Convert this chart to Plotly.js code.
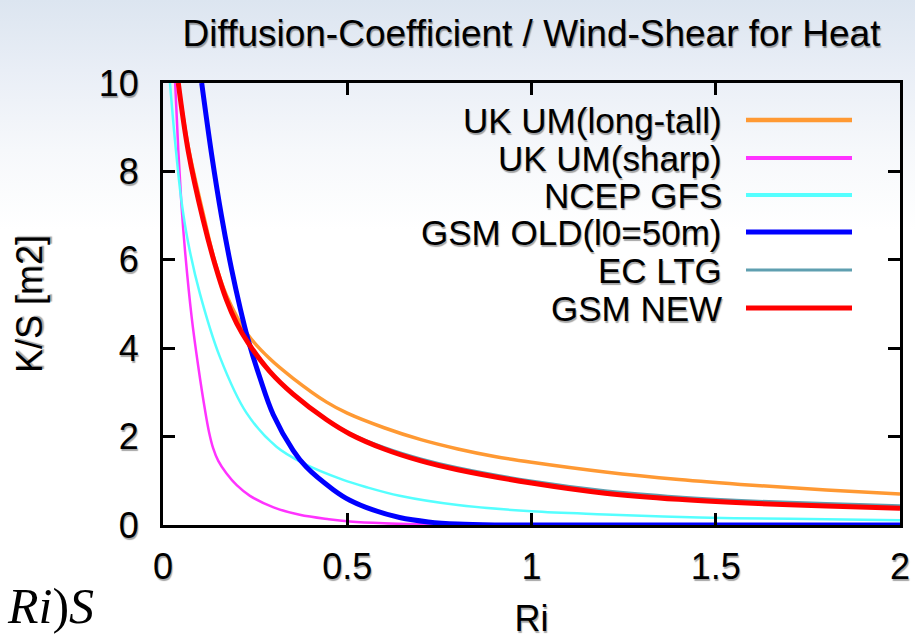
<!DOCTYPE html>
<html>
<head>
<meta charset="utf-8">
<script src="https://cdn.plot.ly/plotly-3.0.1.min.js"></script>
<style>
  html, body { margin: 0; padding: 0; }
  body {
    width: 915px; height: 639px; overflow: hidden;
    background: linear-gradient(to bottom, #dce5f0 0px, #e9eef6 70px, #f6f8fb 150px, #ffffff 230px, #ffffff 639px);
  }
  #chart { width: 915px; height: 639px; }
</style>
</head>
<body>
<div id="chart"></div>
<script>
// ---- data ----
const chartTitle = 'Diffusion-Coefficient / Wind-Shear for Heat';
const xTitle = 'Ri';
const yTitle = 'K/S [m2]';
const xTickVals = [0, 0.5, 1, 1.5, 2];
const xTickText = ['0', '0.5', '1', '1.5', '2'];
const yTickVals = [0, 2, 4, 6, 8, 10];
const yTickText = ['0', '2', '4', '6', '8', '10'];

const seriesNames = ['UK UM(long-tall)', 'UK UM(sharp)', 'NCEP GFS', 'GSM OLD(l0=50m)', 'EC LTG', 'GSM NEW'];

const ukLongRi = [0.041, 0.0687, 0.109, 0.141, 0.172, 0.231, 0.29, 0.353, 0.444, 0.5, 0.6, 0.7, 0.8, 0.9, 1.0, 1.2, 1.4, 1.6, 1.8, 2.0];
const ukLongKS = [10, 8.55, 7.05, 5.95, 5.2, 4.3, 3.76, 3.32, 2.78, 2.53, 2.2, 1.93, 1.72, 1.55, 1.42, 1.2, 1.03, 0.9, 0.79, 0.7];

const ukSharpRi = [0.033, 0.0415, 0.05, 0.0596, 0.0777, 0.0958, 0.114, 0.125, 0.136, 0.15, 0.172, 0.2, 0.236, 0.3, 0.371, 0.45, 0.507, 0.6, 0.7, 0.8, 1.0, 1.5, 2.0];
const ukSharpKS = [10, 8.48, 7.25, 6.22, 4.71, 3.58, 2.6, 2.1, 1.74, 1.45, 1.17, 0.9, 0.66, 0.4, 0.23, 0.13, 0.08, 0.04, 0.02, 0.01, 0.005, 0, 0];

const ncepRi = [0.019, 0.0325, 0.0506, 0.0687, 0.1, 0.154, 0.227, 0.308, 0.38, 0.489, 0.55, 0.642, 0.8, 1.0, 1.2, 1.455, 1.7, 2.0];
const ncepKS = [10, 8.7, 7.3, 6.37, 5.24, 3.81, 2.53, 1.77, 1.4, 1.02, 0.86, 0.66, 0.45, 0.31, 0.24, 0.17, 0.14, 0.11];

const gsmOldRi = [0.105, 0.132, 0.159, 0.186, 0.209, 0.231, 0.263, 0.299, 0.353, 0.389, 0.462, 0.507, 0.57, 0.642, 0.72, 0.8, 0.9, 1.0, 1.5, 2.0];
const gsmOldKS = [10, 8.38, 6.98, 5.79, 4.92, 4.19, 3.33, 2.5, 1.69, 1.31, 0.8, 0.56, 0.34, 0.17, 0.07, 0.02, 0, 0, 0, 0];

const ecLtgRi = [0.0415, 0.0687, 0.109, 0.141, 0.172, 0.2, 0.231, 0.29, 0.353, 0.444, 0.507, 0.6, 0.7, 0.8, 1.0, 1.2, 1.4, 1.6, 1.8, 2.0];
const ecLtgKS = [10, 8.45, 6.9, 5.9, 5.1, 4.56, 4.12, 3.47, 2.96, 2.39, 2.08, 1.76, 1.5, 1.3, 1.0, 0.78, 0.64, 0.55, 0.49, 0.44];

const gsmNewRi = [0.0415, 0.0687, 0.109, 0.141, 0.172, 0.2, 0.231, 0.29, 0.353, 0.444, 0.507, 0.6, 0.7, 0.8, 1.0, 1.2, 1.4, 1.6, 1.8, 2.0];
const gsmNewKS = [10, 8.45, 6.9, 5.9, 5.1, 4.56, 4.12, 3.47, 2.96, 2.38, 2.06, 1.72, 1.45, 1.25, 0.95, 0.72, 0.58, 0.49, 0.43, 0.38];

// ---- styles ----
const seriesX = [ukLongRi, ukSharpRi, ncepRi, gsmOldRi, ecLtgRi, gsmNewRi];
const seriesY = [ukLongKS, ukSharpKS, ncepKS, gsmOldKS, ecLtgKS, gsmNewKS];
const colors = ['#ff9933', '#ff33ff', '#55ffff', '#0000ff', '#5f9fb0', '#ff0000'];
const widths = [3.5, 2.5, 2.5, 5, 2.5, 5];
const legendWidths = [4.5, 4, 4, 5, 3, 5];

const FONT = 'Liberation Sans, Arial, Helvetica, sans-serif';
const SHADOW = '1px 2px 1px rgba(0,0,0,0.35)';

const traces = seriesNames.map((name, i) => ({
  type: 'scatter', mode: 'lines', name: name,
  x: seriesX[i], y: seriesY[i],
  line: { color: colors[i], width: widths[i], shape: 'spline', smoothing: 1 },
  showlegend: false, hoverinfo: 'skip'
}));

// custom legend: right-aligned text, sample line on the right (gnuplot style)
const L = 163, R = 900, T = 83, B = 525;
const pw = R - L, ph = B - T;
const rowPx = [120, 158, 195, 232, 270, 308];
const annotations = [];
const shapes = [];
seriesNames.forEach((name, i) => {
  const yp = (B - rowPx[i]) / ph;
  annotations.push({
    xref: 'paper', yref: 'paper', x: (724 - L) / pw, y: yp,
    xanchor: 'right', yanchor: 'middle', showarrow: false, text: name,
    font: { family: FONT, size: 35, color: '#000', shadow: SHADOW }
  });
  shapes.push({
    type: 'line', xref: 'paper', yref: 'paper',
    x0: (746 - L) / pw, x1: (852 - L) / pw, y0: yp, y1: yp,
    line: { color: colors[i], width: legendWidths[i] }
  });
});
// fragment of a formula from the slide, bottom-left
annotations.push({
  xref: 'paper', yref: 'paper', x: (96 - L) / pw, y: (B - 606) / ph,
  xanchor: 'right', yanchor: 'middle', showarrow: false,
  text: '<i>Ri</i>)<i>S</i>',
  font: { family: 'Liberation Serif, Times New Roman, serif', size: 50, color: '#000' }
});

const axisCommon = {
  showline: true, linewidth: 3, linecolor: '#000', mirror: 'ticks',
  ticks: 'inside', ticklen: 12, tickwidth: 3, tickcolor: '#000',
  showgrid: false, zeroline: false,
  tickfont: { family: FONT, size: 36, color: '#000', shadow: SHADOW }
};

const layout = {
  width: 915, height: 639,
  margin: { l: L, r: 915 - R, t: T, b: 639 - B },
  paper_bgcolor: 'rgba(0,0,0,0)', plot_bgcolor: 'rgba(0,0,0,0)',
  showlegend: false,
  title: {
    text: chartTitle, xref: 'paper', x: 0.5, xanchor: 'center',
    yref: 'container', y: 1 - 33 / 639, yanchor: 'middle',
    font: { family: FONT, size: 37, color: '#000', shadow: SHADOW }
  },
  xaxis: Object.assign({}, axisCommon, {
    range: [0, 2], tickmode: 'array', tickvals: xTickVals, ticktext: xTickText,
    ticklabelstandoff: 8,
    title: { text: xTitle, standoff: 28, font: { family: FONT, size: 36, color: '#000', shadow: SHADOW } }
  }),
  yaxis: Object.assign({}, axisCommon, {
    range: [0, 10], tickmode: 'array', tickvals: yTickVals, ticktext: yTickText,
    ticklabelstandoff: 14,
    title: { text: yTitle, standoff: 46, font: { family: FONT, size: 36, color: '#000', shadow: SHADOW } }
  }),
  annotations: annotations,
  shapes: shapes
};

Plotly.newPlot('chart', traces, layout, { staticPlot: true, displayModeBar: false });
</script>
</body>
</html>
